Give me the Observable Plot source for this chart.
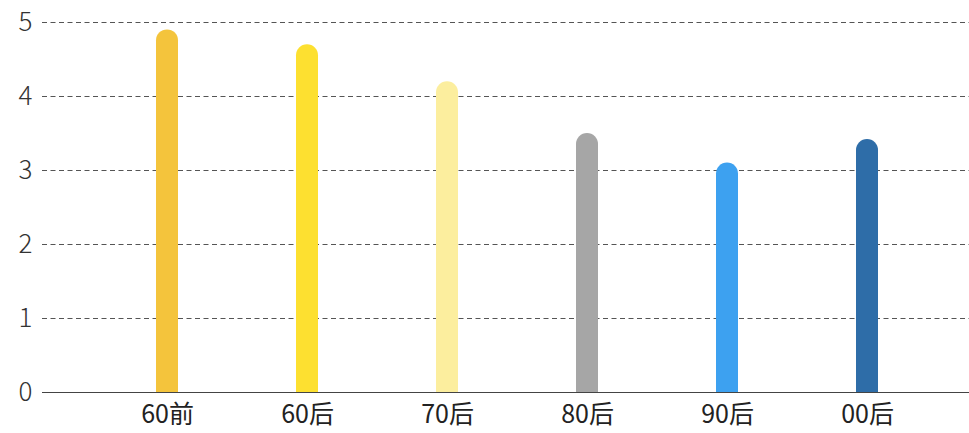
<!DOCTYPE html>
<html>
<head>
<meta charset="utf-8">
<script src="https://cdn.jsdelivr.net/npm/d3@7"></script>
<script src="https://cdn.jsdelivr.net/npm/@observablehq/plot@0.6"></script>
<style>
  html, body { margin: 0; padding: 0; background: #fff; }
  #chart svg { display: block; }
</style>
</head>
<body>
<div id="chart"></div>
<script>
const categories = ["60前", "60后", "70后", "80后", "90后", "00后"];
const values = [4.9, 4.7, 4.2, 3.5, 3.1, 3.42];
const colors = ["#F4C43C", "#FDE030", "#FCEE9E", "#A6A6A6", "#3DA1F0", "#2E6DA8"];
const yTicks = [0, 1, 2, 3, 4, 5];

const data = categories.map((c, i) => ({ category: c, value: values[i], color: colors[i] }));

const chart = Plot.plot({
  width: 969,
  height: 433,
  marginLeft: 42,
  marginRight: 0,
  marginTop: 22,
  marginBottom: 41,
  style: { fontFamily: "'Noto Sans CJK SC', 'Noto Sans', sans-serif", background: "#fff" },
  x: { domain: categories, range: [97, 937], paddingInner: 0.843, paddingOuter: 0.4215, label: null },
  y: { domain: [0, 5], label: null },
  marks: [
    Plot.ruleY(yTicks.filter(d => d > 0), { stroke: "#555", strokeWidth: 1, strokeDasharray: "5,3.5" }),
    Plot.barY(data, { x: "category", y1: () => -1, y2: "value", fill: "color", rx: 11, clip: true }),
    Plot.ruleY([0], { stroke: "#444", strokeWidth: 1.2 }),
    Plot.axisY({ ticks: yTicks, tickSize: 0, tickPadding: 10, fontSize: 26, fill: "#333", fontWeight: 300, tickFormat: d => String(d) }),
    Plot.axisX({ tickSize: 0, tickPadding: 13, fontSize: 25, fill: "#222", fontWeight: 400 })
  ]
});
document.getElementById("chart").appendChild(chart);
</script>
</body>
</html>
